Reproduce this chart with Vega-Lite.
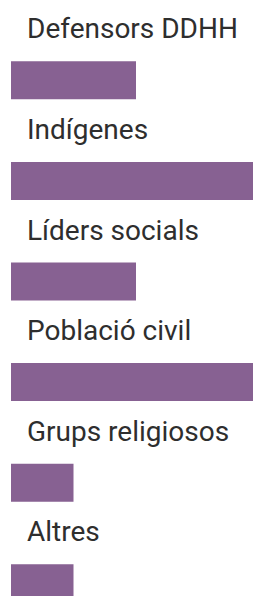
{
  "$schema": "https://vega.github.io/schema/vega-lite/v6.json",
  "autosize": "none",
  "width": 242,
  "height": 566,
  "padding": {"left": 11, "top": 30, "right": 0, "bottom": 0},
  "background": "white",
  "config": {"view": {"stroke": null}},
  "data": {
    "values": [
      {"grup": "Defensors DDHH", "valor": 2},
      {"grup": "Indígenes", "valor": 4},
      {"grup": "Líders socials", "valor": 2},
      {"grup": "Població civil", "valor": 4},
      {"grup": "Grups religiosos", "valor": 1},
      {"grup": "Altres", "valor": 1}
    ]
  },
  "encoding": {
    "y": {
      "field": "grup",
      "type": "nominal",
      "sort": null,
      "scale": {"range": [0, 603.6], "paddingInner": 0, "paddingOuter": 0},
      "axis": null
    }
  },
  "layer": [
    {
      "mark": {"type": "bar", "height": 38, "color": "#876192", "clip": true},
      "encoding": {
        "x": {
          "field": "valor",
          "type": "quantitative",
          "scale": {"domain": [0, 4], "range": [0, 250]},
          "axis": null
        }
      }
    },
    {
      "mark": {
        "type": "text",
        "align": "left",
        "baseline": "alphabetic",
        "dx": 16,
        "dy": -42,
        "font": "Roboto",
        "fontSize": 28,
        "color": "#2e2e2e"
      },
      "encoding": {
        "x": {"datum": 0, "type": "quantitative"},
        "text": {"field": "grup"}
      }
    }
  ]
}
